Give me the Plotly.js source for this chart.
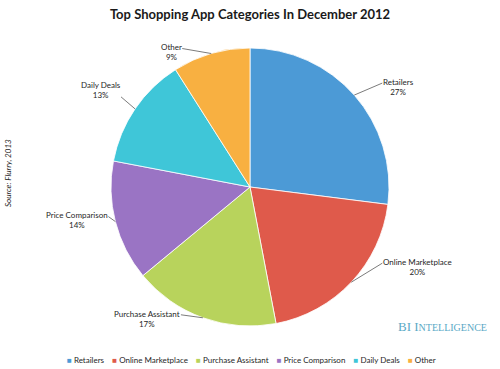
<!DOCTYPE html>
<html>
<head>
<meta charset="utf-8">
<script src="https://cdn.plot.ly/plotly-3.0.1.min.js"></script>
<style>html,body{margin:0;padding:0;background:#fff;}#chart{width:500px;height:369px;}</style>
</head>
<body>
<div id="chart"></div>
<script>
// ---- data ----
const categories = ['Retailers', 'Online Marketplace', 'Purchase Assistant', 'Price Comparison', 'Daily Deals', 'Other'];
const shares = [27, 20, 17, 14, 13, 9];
const sliceColors = ['#4c9ad6', '#df5a4b', '#b8d35c', '#9a74c4', '#3fc6d8', '#f8b041'];
const chartTitle = 'Top Shopping App Categories In December 2012';
const sourceNote = 'Source: Flurry, 2013';

// ---- layout config (label leader offsets in px: dx, dy, text side, row attached) ----
const labelOffsets = [
  [28, -12, 'right', 0],
  [31, -19, 'right', 0],
  [-22, -3, 'left', 0],
  [-7, -5, 'left', 0],
  [-14, -12, 'left', 1],
  [-29, -5, 'left', 0]
];

const W = 500, H = 369;
const dom = {x: [0.222, 0.778], y: [0.1165, 0.8699]};
const FONT = 'Lato, "Open Sans", sans-serif';
const LS = 8, LH = LS * 1.3;
const TXT = '#262626';

const trace = {
  type: 'pie',
  labels: categories,
  values: shares,
  sort: false,
  direction: 'clockwise',
  rotation: 0,
  marker: {colors: sliceColors, line: {color: '#ffffff', width: 0.8}},
  textinfo: 'none',
  hoverinfo: 'label+percent',
  showlegend: false,
  domain: dom
};

// geometry of the pie in pixels (margins are 0)
const cx = W * (dom.x[0] + dom.x[1]) / 2;
const cy = H * (1 - (dom.y[0] + dom.y[1]) / 2);
const R = Math.min(W * (dom.x[1] - dom.x[0]), H * (dom.y[1] - dom.y[0])) / 2;
const total = shares.reduce((a, b) => a + b, 0);

const shapes = [];
const annotations = [];
let cum = 0;
shares.forEach((v, i) => {
  const mid = (cum + v / 2) / total * 2 * Math.PI;
  cum += v;
  const ex = cx + R * Math.sin(mid);
  const ey = cy - R * Math.cos(mid);
  const [dx, dy, side, row] = labelOffsets[i];
  const lx = ex + dx, ly = ey + dy;
  shapes.push({type: 'line', xref: 'paper', yref: 'paper',
    x0: ex / W, y0: 1 - ey / H, x1: lx / W, y1: 1 - ly / H,
    line: {color: '#595959', width: 0.8}});
  const topY = ly - (row + 0.5) * LH - 1;
  annotations.push({
    xref: 'paper', yref: 'paper',
    x: (side === 'right' ? lx + 0.5 : lx - 0.5) / W,
    y: 1 - topY / H,
    xanchor: side === 'right' ? 'left' : 'right',
    yanchor: 'top',
    align: 'center',
    showarrow: false,
    borderpad: 0, borderwidth: 0,
    text: categories[i] + '<br>' + Math.round(v / total * 100) + '%',
    font: {family: FONT, size: LS, color: TXT}
  });
});

// legend built from the same arrays
const legendText = categories.map((c, i) =>
  '<span style="color:' + sliceColors[i] + '">■</span> ' + c).join('\u00a0\u00a0\u00a0\u00a0');
annotations.push({
  xref: 'paper', yref: 'paper', x: 0.502, y: 1 - 360 / H,
  xanchor: 'center', yanchor: 'middle', showarrow: false,
  text: legendText, font: {family: FONT, size: LS, color: TXT}
});

// source note
annotations.push({
  xref: 'paper', yref: 'paper', x: 8 / W, y: 1 - 173 / H,
  xanchor: 'center', yanchor: 'middle', showarrow: false, textangle: -90,
  text: '<i>' + sourceNote + '</i>', font: {family: FONT, size: 8, color: TXT}
});

// BI Intelligence logo
annotations.push({
  xref: 'paper', yref: 'paper', x: 489 / W, y: 1 - 326 / H,
  xanchor: 'right', yanchor: 'middle', showarrow: false,
  text: 'BI I<span style="font-size:10px">NTELLIGENCE</span>',
  font: {family: '"Liberation Serif", "DejaVu Serif", serif', size: 13, color: '#5aa9c6'}
});

const layout = {
  width: W, height: H,
  margin: {l: 0, r: 0, t: 0, b: 0},
  paper_bgcolor: '#ffffff',
  plot_bgcolor: '#ffffff',
  title: {text: '<b>' + chartTitle + '</b>', x: 0.5, xanchor: 'center', xref: 'paper',
    y: 1 - 14 / H, yref: 'container', yanchor: 'middle',
    font: {family: FONT, size: 13, color: '#1a1a1a'}},
  showlegend: false,
  shapes: shapes,
  annotations: annotations
};

Plotly.newPlot('chart', [trace], layout, {displayModeBar: false, staticPlot: true});
</script>
</body>
</html>
